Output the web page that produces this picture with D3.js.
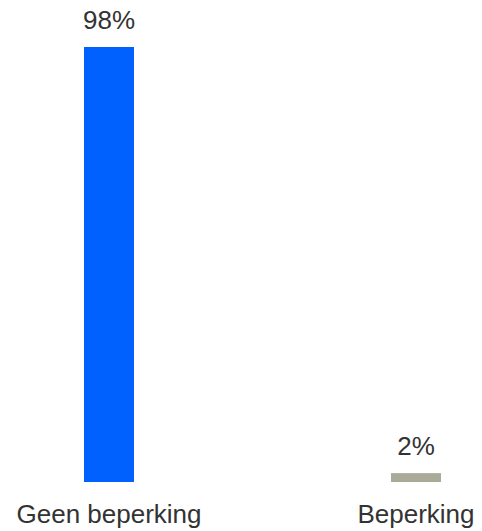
<!DOCTYPE html>
<html>
<head>
<meta charset="utf-8">
<script src="https://cdn.jsdelivr.net/npm/d3@7"></script>
<style>
  html, body { margin: 0; padding: 0; background: #fff; }
  svg { display: block; font-family: "Liberation Sans", Arial, sans-serif; }
</style>
</head>
<body>
<svg id="chart" width="482" height="531"></svg>
<script>
const categories = ['Geen beperking', 'Beperking'];
const values     = [98, 2];
const colors     = ['#0061ff', '#a9ab98'];

const baseY = 482, topY = 47;

const svg = d3.select('#chart');

const x = d3.scaleBand().domain(categories).range([84, 441]).paddingInner(0.8371).paddingOuter(0);
const y = d3.scaleLinear().domain([0, 98]).range([baseY, topY]);

svg.selectAll('rect.bar').data(values).join('rect')
  .attr('class', 'bar')
  .attr('x', (d, i) => x(categories[i]))
  .attr('width', x.bandwidth())
  .attr('y', d => y(d))
  .attr('height', d => baseY - y(d))
  .attr('fill', (d, i) => colors[i]);

svg.selectAll('text.val').data(values).join('text')
  .attr('class', 'val')
  .attr('x', (d, i) => x(categories[i]) + x.bandwidth() / 2)
  .attr('y', d => y(d) - 18)
  .attr('text-anchor', 'middle')
  .attr('font-size', 26)
  .attr('fill', '#333')
  .text(d => d + '%');

// category axis, no line/ticks
const ax = svg.append('g').attr('transform', `translate(0,${baseY})`)
  .call(d3.axisBottom(x).tickSize(0).tickPadding(0));
ax.select('.domain').remove();
ax.selectAll('text')
  .attr('y', 41).attr('dy', 0)
  .attr('font-size', 26)
  .attr('font-family', '"Liberation Sans", Arial, sans-serif')
  .attr('fill', '#333');
</script>
</body>
</html>
